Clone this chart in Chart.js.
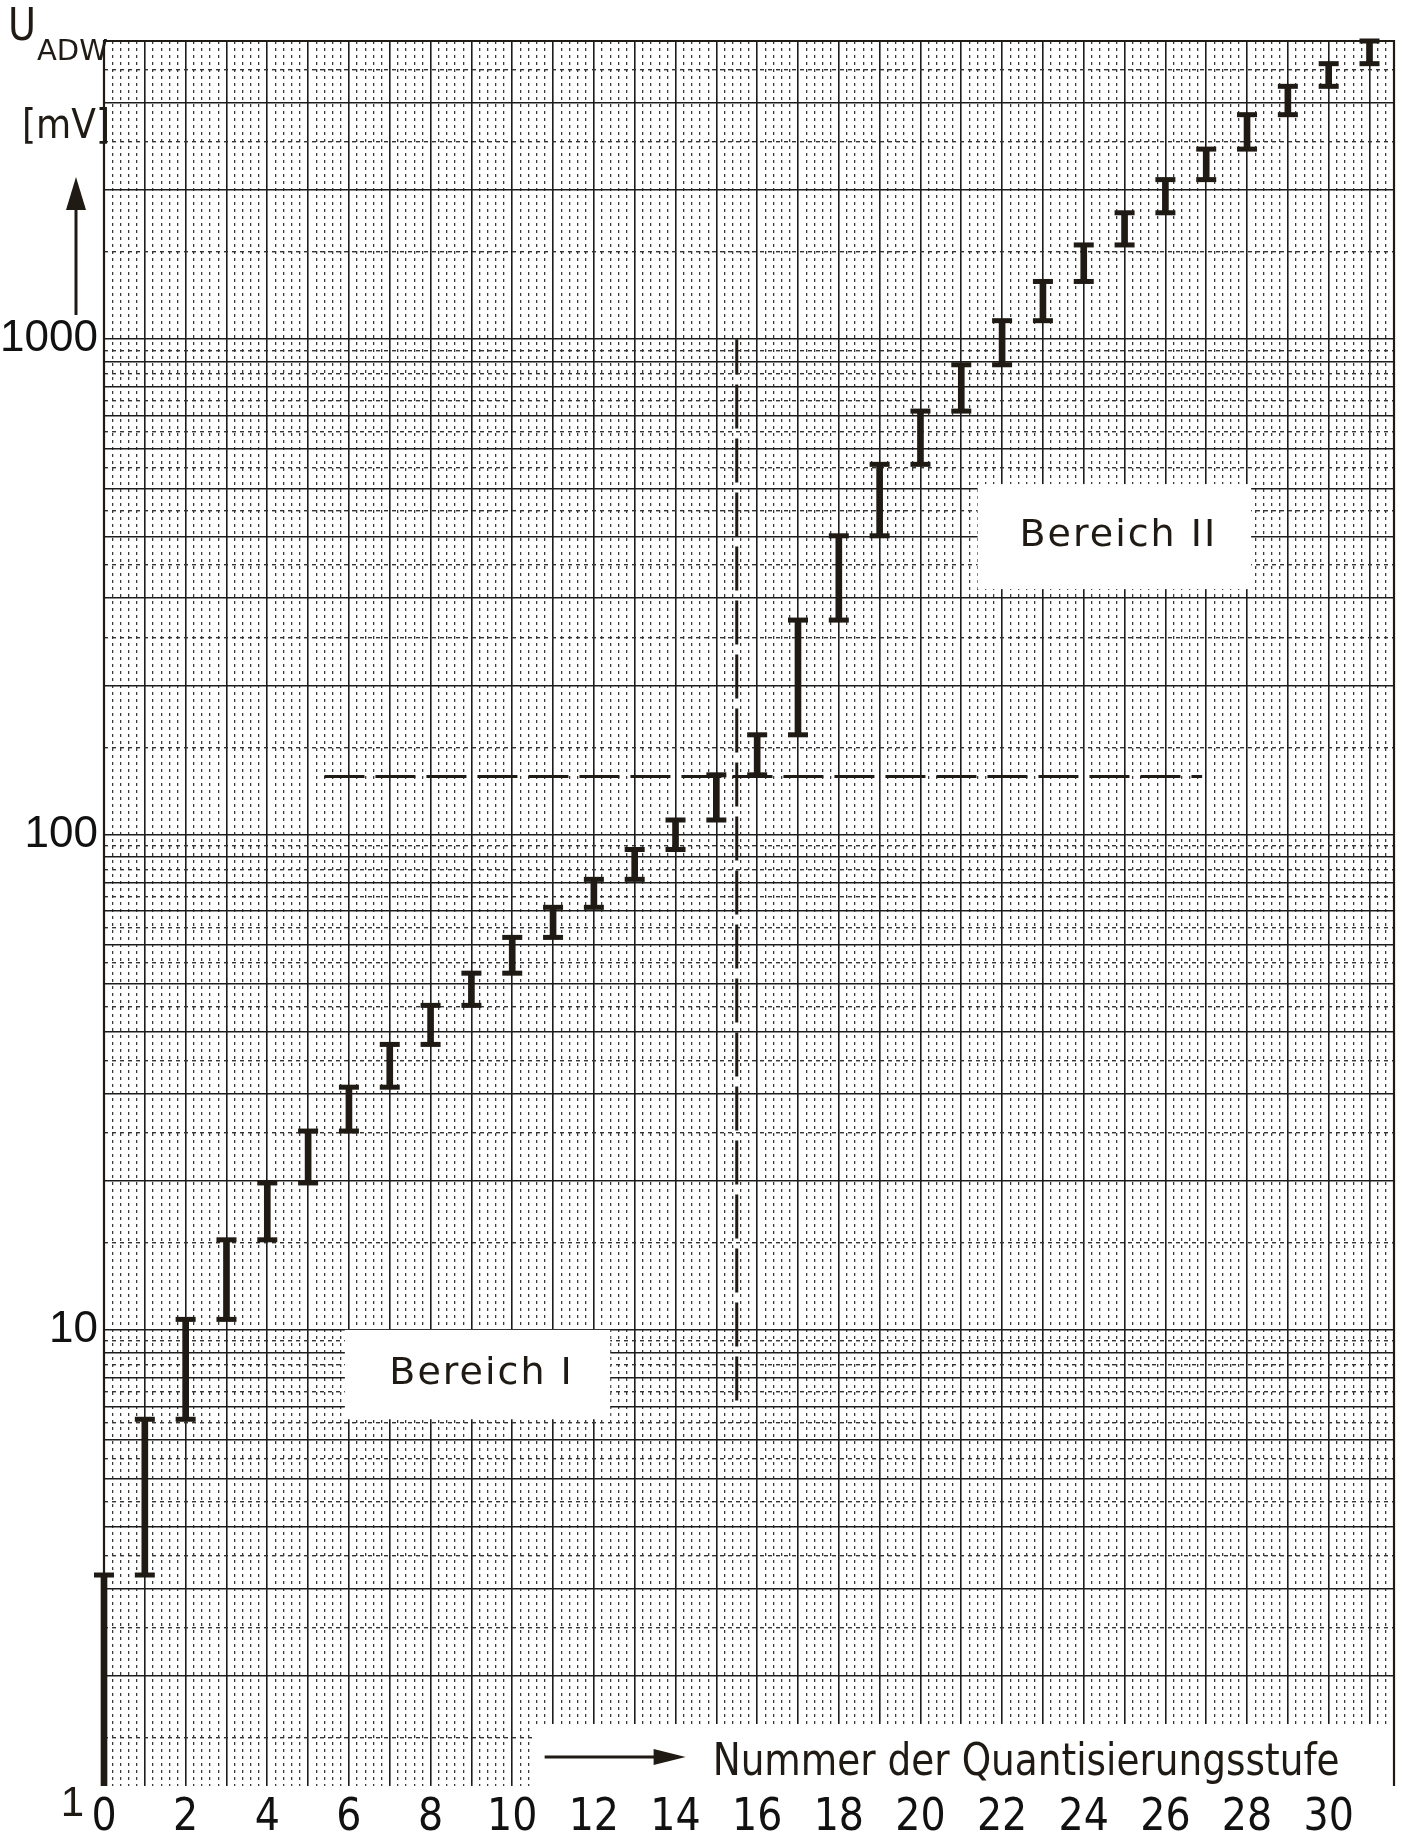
<!DOCTYPE html>
<html lang="de">
<head>
<meta charset="utf-8">
<title>Quantisierungsstufen – U_ADW</title>
<script src="https://cdn.jsdelivr.net/npm/chart.js@4.4.1/dist/chart.umd.min.js"></script>
<style>
  html, body { margin: 0; padding: 0; background: #fff; }
  #chart { display: block; width: 1409px; height: 1841px; }
</style>
</head>
<body>
<canvas id="chart" width="1409" height="1841"></canvas>
<script>
// Stufen und Spannungsgrenzen (mV)
const steps = [0, 1, 2, 3, 4, 5, 6, 7, 8, 9, 10, 11, 12, 13, 14, 15,
  16, 17, 18, 19, 20, 21, 22, 23, 24, 25, 26, 27, 28, 29, 30, 31];
const lowMv = [1, 3.2, 6.6, 10.5, 15.2, 19.8, 25.2, 30.9, 37.7, 45.2, 52.5, 62, 71.3, 81.2, 93.3, 107,
  132, 159, 271, 401, 559, 716, 888, 1090, 1308, 1550, 1800, 2100, 2420, 2840, 3240, 3600];
const highMv = [3.2, 6.6, 10.5, 15.2, 19.8, 25.2, 30.9, 37.7, 45.2, 52.5, 62, 71.3, 81.2, 93.3, 107, 132,
  159, 271, 401, 559, 716, 888, 1090, 1308, 1550, 1800, 2100, 2420, 2840, 3240, 3600, 4000];

// Achsen (das Papier endet unten knapp über 1 mV)
const xMin = 0, xMax = 31.6;
const yMin = 1.2, yMax = 4000;
const xLabelSteps = [0, 2, 4, 6, 8, 10, 12, 14, 16, 18, 20, 22, 24, 26, 28, 30];
const yLabelValues = [1, 10, 100, 1000];
const decades = [1, 10, 100, 1000];
const solidMantissas = [1, 2, 3, 4, 5, 6, 7, 8, 9];
const dottedMantissas = [1.5, 2.5, 3.5, 4.5, 5.5, 6.5, 7.5, 8.5, 9.5];

// Bereichsgrenze (gestrichelt)
const boundaryStep = 15.5;
const boundaryStepMv = [7.2, 1000];
const boundaryMv = 131;
const boundaryMvSteps = [5.4, 26.9];

// Beschriftete Bereiche
const regionNames = ['Bereich I', 'Bereich II'];
const regionSteps = [[5.9, 12.4], [21.4, 28.1]];
const regionMv = [[6.6, 10], [313, 510]];

const ink = '#1f1a14';
const gridInk = '#1c1c1c';
const textFont = "'DejaVu Sans', 'Open Sans', sans-serif";
const yNumFont = "'Liberation Sans', Arimo, sans-serif";
const xNumFont = "'Liberation Sans Narrow', 'DejaVu Sans Condensed', 'Roboto Condensed', Roboto, sans-serif";

// Rasterlinien des Papiers
const ySolid = decades.flatMap(d => solidMantissas.map(m => m * d)).filter(v => v >= yMin && v <= yMax);
const yDotted = decades.flatMap(d => dottedMantissas.map(m => m * d)).filter(v => v > yMin && v < yMax);
const xSolid = Array.from({ length: Math.floor(xMax) + 1 }, (_, i) => i);
const xDotted = Array.from({ length: Math.round(xMax * 5) }, (_, k) => k / 5)
  .filter(v => Math.abs(v - Math.round(v)) > 1e-6);

const setTicks = values => scale => { scale.ticks = values.map(value => ({ value })); };

const capPoints = steps
  .flatMap((s, i) => [{ x: s, y: lowMv[i] }, { x: s, y: highMv[i] }])
  .filter(p => p.y > yMin);

/** Weisse Kästen, Titel, Pfeile */
const paperPlugin = {
  id: 'paper',
  beforeDatasetsDraw(chart) {
    const { ctx, chartArea: a, scales: { x, y } } = chart;
    ctx.save();

    // Bereich I / II
    regionNames.forEach((name, i) => {
      const x1 = x.getPixelForValue(regionSteps[i][0]);
      const x2 = x.getPixelForValue(regionSteps[i][1]);
      const y1 = y.getPixelForValue(regionMv[i][1]);
      const y2 = y.getPixelForValue(regionMv[i][0]);
      ctx.fillStyle = '#fff';
      ctx.fillRect(x1, y1, x2 - x1, y2 - y1);
      ctx.fillStyle = ink;
      ctx.font = `38px ${textFont}`;
      ctx.letterSpacing = '2px';
      ctx.textAlign = 'center';
      ctx.textBaseline = 'middle';
      ctx.fillText(name, (x1 + x2) / 2 + 4, (y1 + y2) / 2, x2 - x1 - 20);
    });
    ctx.letterSpacing = '0px';

    // Achsentitel unten
    const bx = x.getPixelForValue(10.5);
    ctx.fillStyle = '#fff';
    ctx.fillRect(bx, a.bottom - 62, a.right - bx, 62);
    const ay = a.bottom - 29;
    ctx.strokeStyle = ink;
    ctx.fillStyle = ink;
    ctx.lineWidth = 3;
    ctx.beginPath();
    ctx.moveTo(bx + 12, ay);
    ctx.lineTo(bx + 128, ay);
    ctx.stroke();
    ctx.beginPath();
    ctx.moveTo(bx + 153, ay);
    ctx.lineTo(bx + 121, ay - 8);
    ctx.lineTo(bx + 121, ay + 8);
    ctx.closePath();
    ctx.fill();
    ctx.font = `44px ${textFont}`;
    ctx.textAlign = 'left';
    ctx.textBaseline = 'alphabetic';
    ctx.fillText('Nummer der Quantisierungsstufe', bx + 180, a.bottom - 11, 627);
    ctx.restore();
  },
  afterDraw(chart) {
    const { ctx, chartArea: a, scales: { y } } = chart;
    ctx.save();
    ctx.strokeStyle = ink;
    ctx.fillStyle = ink;

    // Rahmen: oben, links, rechts
    ctx.lineWidth = 2.2;
    ctx.beginPath();
    ctx.moveTo(a.left, a.bottom);
    ctx.lineTo(a.left, a.top);
    ctx.lineTo(a.right, a.top);
    ctx.lineTo(a.right, a.bottom);
    ctx.stroke();

    // Achsenwert unterhalb des Papierrands (1 mV)
    ctx.font = `42px ${yNumFont}`;
    ctx.textAlign = 'right';
    ctx.textBaseline = 'alphabetic';
    yLabelValues.filter(v => v < yMin).forEach(v => {
      ctx.fillText(String(v), a.left - 20, y.getPixelForValue(v) - 9);
    });

    // U_ADW [mV] mit Pfeil
    ctx.textAlign = 'left';
    ctx.font = `45px ${textFont}`;
    ctx.fillText('U', 8, 40, 28);
    ctx.font = `29px ${textFont}`;
    ctx.fillText('ADW', 37, 60, 74);
    ctx.font = `40px ${textFont}`;
    ctx.fillText('[mV]', 22, 138, 88);

    ctx.lineWidth = 3;
    ctx.beginPath();
    ctx.moveTo(76, 315);
    ctx.lineTo(76, 200);
    ctx.stroke();
    ctx.beginPath();
    ctx.moveTo(76, 177);
    ctx.lineTo(66, 210);
    ctx.lineTo(86, 210);
    ctx.closePath();
    ctx.fill();
    ctx.restore();
  },
};

new Chart(document.getElementById('chart'), {
  type: 'scatter',
  data: {
    datasets: [
      {
        type: 'bar',
        data: steps.map((s, i) => ({ x: s, y: [lowMv[i], highMv[i]] })),
        backgroundColor: ink,
        borderWidth: 0,
        barThickness: 6,
        clip: { left: false, top: false, right: false, bottom: 0 },
        xAxisID: 'x',
        yAxisID: 'y',
      },
      {
        type: 'scatter',
        data: capPoints,
        pointStyle: 'line',
        pointRadius: 10,
        borderWidth: 5,
        borderColor: ink,
        backgroundColor: ink,
        clip: false,
        xAxisID: 'x',
        yAxisID: 'y',
      },
      {
        type: 'line',
        data: [{ x: boundaryStep, y: boundaryStepMv[0] }, { x: boundaryStep, y: boundaryStepMv[1] }],
        borderColor: ink,
        borderWidth: 3,
        borderDash: [44, 10],
        pointRadius: 0,
        fill: false,
        xAxisID: 'x',
        yAxisID: 'y',
      },
      {
        type: 'line',
        data: [{ x: boundaryMvSteps[0], y: boundaryMv }, { x: boundaryMvSteps[1], y: boundaryMv }],
        borderColor: ink,
        borderWidth: 3,
        borderDash: [40, 11],
        pointRadius: 0,
        fill: false,
        xAxisID: 'x',
        yAxisID: 'y',
      },
    ],
  },
  options: {
    responsive: false,
    devicePixelRatio: 1,
    animation: false,
    events: [],
    layout: { padding: { top: 41, right: 14, left: 0, bottom: 0 } },
    plugins: { legend: { display: false }, tooltip: { enabled: false } },
    scales: {
      x: {
        type: 'linear', min: xMin, max: xMax, position: 'bottom', offset: false,
        afterBuildTicks: setTicks(xSolid),
        afterFit: s => { s.height = 55; },
        grid: { color: gridInk, lineWidth: 1.6, drawTicks: false, offset: false },
        border: { display: false },
        ticks: {
          autoSkip: false, maxRotation: 0, minRotation: 0, padding: 6, color: '#111',
          font: { family: xNumFont, size: 44 },
          callback: v => (xLabelSteps.includes(v) ? String(v) : ''),
        },
      },
      xDots: {
        type: 'linear', min: xMin, max: xMax, position: 'bottom', offset: false,
        afterBuildTicks: setTicks(xDotted),
        afterFit: s => { s.height = 0; },
        grid: { color: '#3a3a3a', lineWidth: 1.3, drawTicks: false, offset: false },
        border: { display: false, dash: [3, 4] },
        ticks: { display: false },
      },
      y: {
        type: 'logarithmic', min: yMin, max: yMax, position: 'left',
        afterBuildTicks: setTicks(ySolid),
        afterFit: s => { s.width = 104; },
        grid: { color: gridInk, lineWidth: 1.6, drawTicks: false },
        border: { display: false },
        ticks: {
          autoSkip: false, padding: 6, color: '#111',
          font: { family: yNumFont, size: 44 },
          callback: v => (yLabelValues.includes(v) ? String(v) : ''),
        },
      },
      yDots: {
        type: 'logarithmic', min: yMin, max: yMax, position: 'left',
        afterBuildTicks: setTicks(yDotted),
        afterFit: s => { s.width = 0; },
        grid: { color: '#333', lineWidth: 1.4, drawTicks: false },
        border: { display: false, dash: [4, 4] },
        ticks: { display: false },
      },
    },
  },
  plugins: [paperPlugin],
});
</script>
</body>
</html>
